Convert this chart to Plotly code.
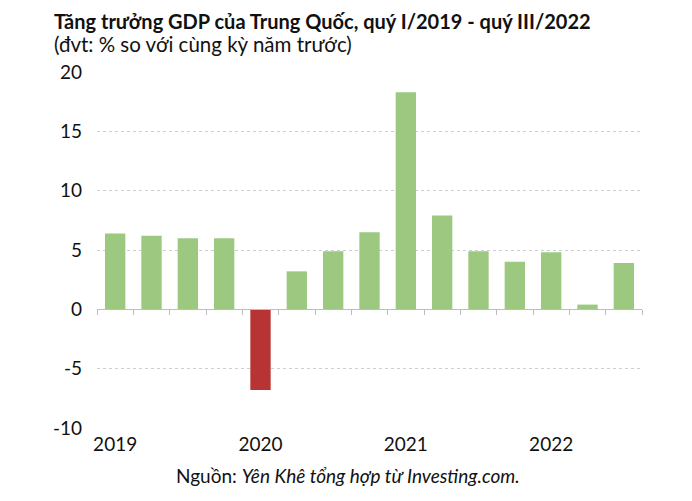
import plotly.graph_objects as go

quarters = ["Q1/2019", "Q2/2019", "Q3/2019", "Q4/2019",
            "Q1/2020", "Q2/2020", "Q3/2020", "Q4/2020",
            "Q1/2021", "Q2/2021", "Q3/2021", "Q4/2021",
            "Q1/2022", "Q2/2022", "Q3/2022"]
gdp_growth = [6.4, 6.2, 6.0, 6.0, -6.8, 3.2, 4.9, 6.5, 18.3, 7.9, 4.9, 4.0, 4.8, 0.4, 3.9]
year_labels = ["2019", "2020", "2021", "2022"]
year_positions = [0, 4, 8, 12]
y_ticks = [-10, -5, 0, 5, 10, 15, 20]

GREEN = "#9cc97f"
RED = "#b83434"
FONT = "Lato, 'Open Sans', sans-serif"

x_idx = list(range(len(quarters)))
colors = [GREEN if v >= 0 else RED for v in gdp_growth]

fig = go.Figure()
fig.add_trace(go.Bar(x=x_idx, y=gdp_growth, marker=dict(color=colors, line=dict(width=0)),
                     width=0.56, hovertext=quarters, showlegend=False))
# invisible trace to carry the year-label axis
fig.add_trace(go.Scatter(x=year_positions, y=[None] * len(year_positions), xaxis="x2",
                         mode="markers", showlegend=False, hoverinfo="skip"))

y0_frac = (0 - (-10)) / (20 - (-10))

fig.update_layout(
    width=692, height=501,
    margin=dict(l=89, r=58, t=64, b=81, autoexpand=False),
    paper_bgcolor="white", plot_bgcolor="white",
    font=dict(family=FONT, color="#111111", size=16),
    xaxis=dict(range=[-0.5, len(quarters) - 0.5],
               tickvals=[i - 0.5 for i in range(len(quarters) + 1)],
               showticklabels=False, ticks="outside", ticklen=5, tickcolor="#bdbdbd",
               showline=True, linecolor="#bdbdbd", linewidth=1,
               showgrid=False, zeroline=False, automargin=False,
               anchor="free", position=y0_frac),
    xaxis2=dict(range=[-0.5, len(quarters) - 0.5], overlaying="x", side="bottom",
                anchor="y", tickvals=year_positions, ticktext=year_labels,
                ticks="", showgrid=False, zeroline=False, showline=False, automargin=False,
                tickfont=dict(size=19, family=FONT, color="#111111"), ticklabelstandoff=3),
    yaxis=dict(range=[-10, 20], tickvals=y_ticks, ticktext=[str(v) for v in y_ticks],
               showgrid=True, gridcolor="#cfcfcf", griddash="dot", gridwidth=1,
               zeroline=False, showline=False, ticks="", automargin=False,
               tickfont=dict(size=19, family=FONT, color="#111111"), ticklabelstandoff=14),
    bargap=0.45,
)

fig.add_annotation(text="<b>Tăng trưởng GDP của Trung Quốc, quý I/2019 - quý III/2022</b>",
                   xref="paper", yref="paper", x=-0.081, y=1.0, yanchor="middle", xanchor="left",
                   yshift=51, borderpad=0, showarrow=False,
                   font=dict(size=20, family=FONT, color="#111111"))
fig.add_annotation(text="(đvt: % so với cùng kỳ năm trước)",
                   xref="paper", yref="paper", x=-0.081, y=1.0, yanchor="middle", xanchor="left",
                   yshift=28, borderpad=0, showarrow=False,
                   font=dict(size=20.5, family=FONT, color="#111111"))
fig.add_annotation(text="Nguồn: <i>Yên Khê tổng hợp từ Investing.com.</i>",
                   xref="paper", yref="paper", x=0.46, y=0, yanchor="middle", xanchor="center",
                   yshift=-47, showarrow=False, font=dict(size=19, family=FONT, color="#111111"))

fig.write_html("out.html")
